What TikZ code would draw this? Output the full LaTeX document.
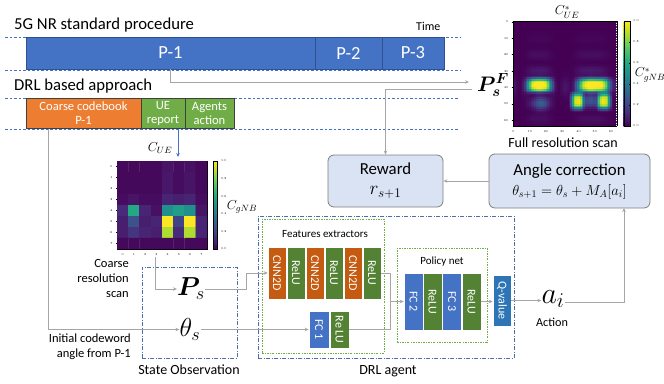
\RequirePackage{fix-cm}
\documentclass[tikz,border=0pt]{standalone}
\usepackage{fontspec}
\setmainfont{Carlito}
\usepackage{amsmath,bm}
\usepackage{graphicx}
\usepackage{pgfplots}
\pgfplotsset{compat=1.18}
\usetikzlibrary{arrows.meta}
\definecolor{pblue}{HTML}{4472C4}
\definecolor{pedge}{HTML}{2F528F}
\definecolor{orng}{HTML}{ED7D31}
\definecolor{grn}{HTML}{70AD47}
\definecolor{cnn}{HTML}{C55A11}
\definecolor{relu}{HTML}{548235}
\definecolor{qvc}{HTML}{2E75B6}
\definecolor{lightbox}{HTML}{DAE3F3}
\definecolor{linegray}{HTML}{A6A6A6}
\definecolor{boxgray}{HTML}{7F7F7F}
\definecolor{ddblue}{HTML}{4A6DAE}
\definecolor{ddgreen}{HTML}{70AD47}
\tikzset{
  gl/.style={draw=linegray, line width=0.7pt},
  arr/.style={gl, -{Stealth[length=4pt,width=3.5pt]}},
  bluearr/.style={draw=pblue, line width=0.7pt, -{Stealth[length=4pt,width=3.5pt]}},
  blk/.style={draw=white, line width=0.5pt, text=white, inner sep=0pt, font=\fontsize{12}{12}\selectfont},
  pbar/.style={draw=pedge, fill=pblue, line width=0.6pt, text=white, inner sep=0pt, minimum height=32pt, font=\fontsize{18.5}{18.5}\selectfont},
  topbox/.style={draw=black!75, line width=0.6pt, text=white, inner sep=0pt, align=center, minimum height=30pt, font=\fontsize{12.6}{14}\selectfont},
  rbox/.style={draw=boxgray, fill=lightbox, rounded corners=6pt, line width=0.8pt, align=center, inner sep=0pt, font=\fontsize{16.8}{21}\selectfont},
  dashline/.style={draw=pblue, dash pattern=on 2.5pt off 2pt, line width=0.6pt},
  bluedd/.style={draw=ddblue, dash pattern=on 4pt off 1.5pt on 1pt off 1.5pt, line width=0.8pt, inner sep=0pt},
  greendd/.style={draw=ddgreen, dash pattern=on 2pt off 1.2pt on 0.8pt off 1.2pt, line width=0.8pt, inner sep=0pt},
  lbl/.style={inner sep=0pt, font=\fontsize{14}{17}\selectfont},
  side/.style={inner sep=0pt, font=\fontsize{12.5}{15}\selectfont, align=right, anchor=north east},
}
\pgfplotsset{
  hm/.style={scale only axis, y dir=reverse, colormap/viridis,
    point meta min=0, point meta max=1, colorbar,
    tick label style={font=\fontsize{3}{3}\selectfont},
    major tick length=1pt, tick align=outside,
    xtick pos=bottom, ytick pos=left,
    axis line style={line width=0.3pt}, every tick/.style={line width=0.3pt, black},
    enlargelimits=false,
    colorbar style={ytick={0,0.2,...,1}, ymin=0, ymax=1,
      yticklabel style={font=\fontsize{3}{3}\selectfont, /pgf/number format/.cd, fixed, fixed zerofill, precision=1},
      major tick length=1pt, axis line style={line width=0.3pt}},
  },
}
\begin{document}
\begin{tikzpicture}
\useasboundingbox (0,0) rectangle (664pt,-383pt);
% coarse heatmap
\begin{axis}[hm, at={(117pt,-161pt)}, anchor=north west, width=90pt, height=88pt,
  xmin=-0.5, xmax=7.5, ymin=-0.5, ymax=7.5, xtick={0,...,7}, ytick={0,...,7},
  colorbar style={width=4.5pt, at={(1.067,1)}, anchor=north west}]
\addplot[matrix plot*, mesh/cols=8, point meta=explicit] table[meta=c] {
x y c
0 0 .02
1 0 .02
2 0 .02
3 0 .02
4 0 .05
5 0 .03
6 0 .04
7 0 .02
0 1 .02
1 1 .02
2 1 .02
3 1 .02
4 1 .06
5 1 .03
6 1 .05
7 1 .02
0 2 .02
1 2 .02
2 2 .02
3 2 .02
4 2 .06
5 2 .03
6 2 .05
7 2 .02
0 3 .03
1 3 .05
2 3 .03
3 3 .03
4 3 .10
5 3 .08
6 3 .10
7 3 .03
0 4 .12
1 4 .60
2 4 .10
3 4 .04
4 4 .50
5 4 .56
6 4 .50
7 4 .05
0 5 .08
1 5 .25
2 5 .08
3 5 .10
4 5 1.0
5 5 .20
6 5 1.0
7 5 .10
0 6 .08
1 6 .15
2 6 .10
3 6 .08
4 6 .88
5 6 .12
6 6 .88
7 6 .10
0 7 .02
1 7 .02
2 7 .02
3 7 .02
4 7 .02
5 7 .02
6 7 .02
7 7 .02
};
\end{axis}
% full resolution heatmap
\begin{axis}[hm, at={(512.7pt,-21pt)}, anchor=north west, width=104pt, height=105pt,
  view={0}{90}, xmin=-0.5, xmax=63.5, ymin=-0.5, ymax=63.5,
  xtick={0,10,...,60}, ytick={0,10,...,60},
  colorbar style={width=6pt, at={(1.067,1)}, anchor=north west},
  declare function={sq(\t)=(\t)*(\t); ex(\t)=exp(-min(40,\t));}]
\addplot3[surf, shader=flat mean, domain=-0.5:63.5, y domain=-0.5:63.5, samples=64]
 {min(1,
   ex(min(40,sq(sq(x-16))/2780) + min(40,sq(sq(y-38.7))/256))
 + ex(min(40,sq(sq(x-49.5))/8300) + min(40,sq(sq(y-38.7))/256))
 + 0.92*ex(min(40,sq(sq(x-39.5))/187) + min(40,sq(sq(y-48.5))/512))
 + 0.92*ex(min(40,sq(sq(x-55.8))/187) + min(40,sq(sq(y-48.5))/512))
 + 0.25*ex(sq(x-17)/20 + sq(y-50)/15)
 + 0.22*ex(sq(x-47.5)/25 + sq(y-48)/15)
 + 0.08*(ex(min(40,sq(sq(x-16))/3000))+ex(min(40,sq(sq(x-48))/9000)))*ex(sq(y-40)/500)*(0.5+0.5*cos(36*y))
 + 0.06*ex(sq(y-40)/30)*(0.5+0.5*cos(45*x))
 )};
\end{axis}
\begin{scope}[x=1pt,y=-1pt]
% timeline dashed guides
\draw[dashline] (5,37) -- (460,37);
\draw[dashline] (5,70) -- (460,70);
\draw[dashline] (5,98) -- (458,98);
\draw[dashline] (5,129) -- (458,129);
\node[anchor=base west, inner sep=0pt, font=\fontsize{16.7}{18}\selectfont] (t1) at (14,29) {5G NR standard procedure};
\node[anchor=base west, inner sep=0pt, font=\fontsize{12}{12}\selectfont] (time) at (416,30.5) {Time};
\node[anchor=base west, inner sep=0pt, font=\fontsize{16.7}{18}\selectfont] (t2) at (14,90) {DRL based approach};
\node[pbar, minimum width=289pt] (p1) at (170.5,53) {P-1};
\node[pbar, minimum width=67pt] (p2) at (348.5,53) {P-2};
\node[pbar, minimum width=62pt] (p3) at (413,53) {P-3};
\node[topbox, fill=orng, minimum width=115pt] (cc) at (83.5,113.5) {Coarse codebook\\P-1};
\node[topbox, fill=grn, minimum width=44pt] (ue) at (163,113.5) {UE\\report};
\node[topbox, fill=grn, minimum width=49pt] (ag) at (209.5,113.5) {Agents\\action};
% heatmap labels
\node[inner sep=0pt, font=\fontsize{13}{13}\selectfont] (cue) at (160,148) {$C_{UE}$};
\node[inner sep=0pt, font=\fontsize{13}{13}\selectfont] (cgnb) at (242,207) {$C_{gNB}$};
\node[inner sep=0pt, font=\fontsize{13}{13}\selectfont] (cues) at (567,12) {$C^{*}_{UE}$};
\node[inner sep=0pt, font=\fontsize{13}{13}\selectfont] (cgnbs) at (650,75) {$C^{*}_{gNB}$};
\node[lbl] (frs) at (563,143) {Full resolution scan};
% P_s^F
\node[inner sep=0pt, font=\fontsize{21}{21}\selectfont] (psF) at (493,85) {$\bm{P_{s}^{F}}$};
\coordinate (psFa) at (469,82);
\coordinate (psFb) at (472,89);
% reward / angle
\node[rbox, minimum width=115pt, minimum height=52pt] (reward) at (385.5,181) {Reward\\[-1pt]{\fontsize{19}{21}\selectfont $r_{s+1}$}};
\node[rbox, minimum width=161pt, minimum height=54pt] (angle) at (569.5,181) {Angle correction\\[-1pt]{\fontsize{14.5}{21}\selectfont $\theta_{s+1} = \theta_s + M_A[a_i]$}};
% containers
\node[bluedd, minimum width=95pt, minimum height=91pt] (so) at (189.5,312.5) {};
\node[lbl] (solbl) at (189,369.5) {State Observation};
\node[bluedd, minimum width=256pt, minimum height=142pt] (drl) at (386,287) {};
\node[lbl] (drllbl) at (388,371) {DRL agent};
\node[greendd, minimum width=122pt, minimum height=134pt] (fe) at (323,286) {};
\node[inner sep=0pt, font=\fontsize{11}{12}\selectfont] (felbl) at (325,234) {Features extractors};
\node[greendd, minimum width=90pt, minimum height=94pt] (pn) at (442,295) {};
\node[inner sep=0pt, font=\fontsize{11}{12}\selectfont] (pnlbl) at (442,262) {Policy net};
% state symbols
\node[inner sep=0pt, font=\fontsize{26}{26}\selectfont] (ps) at (191,289) {$\bm{P}_{s}$};
\node[inner sep=0pt, font=\fontsize{26}{26}\selectfont] (theta) at (190,329.5) {$\theta_s$};
\node[side] (crs) at (129,259) {Coarse\\resolution\\scan};
\node[side] (ica) at (131,334) {Initial codeword\\angle from P-1};
% action
\node[inner sep=0pt, font=\fontsize{30}{30}\selectfont] (ai) at (553,299) {$a_i$};
\node[inner sep=0pt, font=\fontsize{12.2}{13}\selectfont] (act) at (552,322) {Action};
% connector lines behind blocks
\coordinate (m) at (390,301.5);
\coordinate (j1) at (246,289);
\draw[gl] (277,273) -- (372,273);
\draw[gl] (413.5,301.5) -- (471.5,301.5);
% blocks
\node[blk, fill=cnn, minimum width=18pt, minimum height=52pt] (c1) at (277,273) {\rotatebox{-90}{CNN2D}};
\node[blk, fill=relu, minimum width=18pt, minimum height=52pt] (r1) at (296,273) {\rotatebox{-90}{ReLU}};
\node[blk, fill=cnn, minimum width=18pt, minimum height=52pt] (c2) at (315,273) {\rotatebox{-90}{CNN2D}};
\node[blk, fill=relu, minimum width=18pt, minimum height=52pt] (r2) at (334,273) {\rotatebox{-90}{ReLU}};
\node[blk, fill=cnn, minimum width=18pt, minimum height=52pt] (c3) at (353,273) {\rotatebox{-90}{CNN2D}};
\node[blk, fill=relu, minimum width=18pt, minimum height=52pt] (r3) at (372,273) {\rotatebox{-90}{ReLU}};
\node[blk, fill=pblue, minimum width=20pt, minimum height=37pt] (f1) at (319,329.5) {\rotatebox{-90}{FC 1}};
\node[blk, fill=relu, minimum width=19pt, minimum height=37pt] (rl0) at (339.5,329.5) {\rotatebox{-90}{Re LU}};
\node[blk, fill=pblue, minimum width=19pt, minimum height=57pt] (f2) at (413.5,301.5) {\rotatebox{-90}{FC 2}};
\node[blk, fill=relu, minimum width=19pt, minimum height=57pt] (r4) at (432.5,301.5) {\rotatebox{-90}{ReLU}};
\node[blk, fill=pblue, minimum width=19pt, minimum height=57pt] (f3) at (452,301.5) {\rotatebox{-90}{FC 3}};
\node[blk, fill=relu, minimum width=19pt, minimum height=57pt] (r5) at (471.5,301.5) {\rotatebox{-90}{ReLU}};
\node[blk, fill=qvc, minimum width=18pt, minimum height=51pt] (q) at (502,300.5) {\rotatebox{-90}{Q-value}};
% connectors
\coordinate (ccout) at (48,128.5);
\coordinate (ueout) at (178,128.5);
\coordinate (chmtop) at (178,157);
\coordinate (chmbot) at (155,257);
\coordinate (ain) at (624,208);
\draw[arr] (p1.south) |- (psFa);
\draw[arr] (psFb) -| (reward.north);
\draw[arr] (angle.west) -- (reward.east);
\draw[bluearr] (ueout) -- (chmtop);
\draw[arr] (ccout) |- (theta.west);
\draw[arr] (chmbot) |- (ps.west);
\draw[arr] (ps.east) -- (j1) |- (c1.west);
\draw[gl] (r3.east) -| (m);
\draw[gl] (rl0.east) -| (m);
\draw[arr] (m) -- (f2.west);
\draw[arr] (theta.east) -- (theta.east -| f1.west);
\draw[arr] (r5.east) -- (r5.east -| q.west);
\draw[arr] (q.east) -- (q.east -| ai.west);
\draw[arr] (ai.east |- 0,302) -| (ain);
\end{scope}
\end{tikzpicture}
\end{document}
